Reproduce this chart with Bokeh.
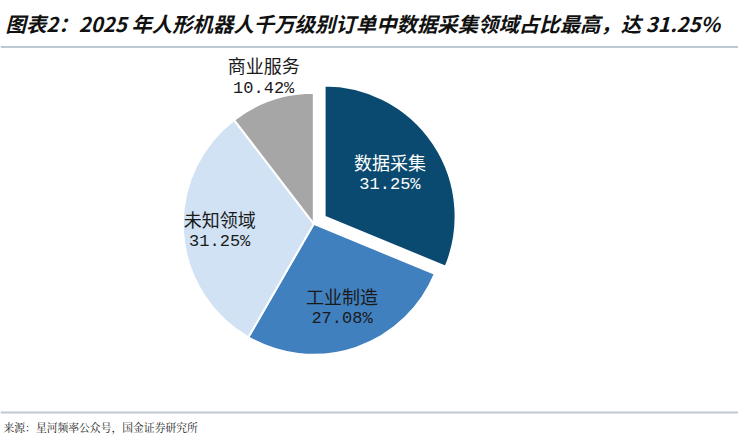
import math
from bokeh.plotting import figure
from bokeh.models import Range1d, ColumnDataSource
from bokeh.core.properties import value
from bokeh.embed import file_html
from bokeh.resources import INLINE

title_text = "图表2：2025 年人形机器人千万级别订单中数据采集领域占比最高，达 31.25%"
source_text = "来源：星河频率公众号，国金证券研究所"
categories = ["数据采集", "工业制造", "未知领域", "商业服务"]
shares = [31.25, 27.08, 31.25, 10.42]
share_labels = ["31.25%", "27.08%", "31.25%", "10.42%"]
colors = ["#0B4A70", "#4180BF", "#D0E2F3", "#A6A6A6"]
label_colors = ["white", "#1a1a1a", "#1a1a1a", "#1a1a1a"]
explode = [13, 0, 0, 0]
label_r = [0.60, 0.67, 0.72, 1.19]

W, H = 738, 441
cx, cy, R = 313.3, H - 223.3, 131

p = figure(width=W, height=H, output_backend="svg", toolbar_location=None,
           x_range=Range1d(0, W), y_range=Range1d(0, H), min_border=0)
p.axis.visible = False
p.grid.visible = False
p.outline_line_color = None
p.background_fill_color = "white"

total = sum(shares)
xs, ys, sa, ea, lx, ly = [], [], [], [], [], []
cum = 0.0
for s, e, lr in zip(shares, explode, label_r):
    a0 = math.pi / 2 - cum / total * 2 * math.pi
    cum += s
    a1 = math.pi / 2 - cum / total * 2 * math.pi
    mid = (a0 + a1) / 2
    ox, oy = cx + e * math.cos(mid), cy + e * math.sin(mid)
    xs.append(ox); ys.append(oy); sa.append(a0); ea.append(a1)
    lx.append(ox + lr * R * math.cos(mid)); ly.append(oy + lr * R * math.sin(mid))

src = ColumnDataSource(dict(x=xs, y=ys, sa=sa, ea=ea, color=colors,
                            lx=lx, ly=ly, cat=categories, pct=share_labels,
                            ly1=[v + 11 for v in ly], ly2=[v - 12 for v in ly],
                            lc=label_colors))
p.wedge(x="x", y="y", radius=R, start_angle="sa", end_angle="ea", direction="clock",
        fill_color="color", line_color="white", line_width=2, source=src)
p.text(x="lx", y="ly1", text="cat", text_color="lc", text_align="center",
       text_baseline="middle", text_font=value("Noto Sans CJK SC"),
       text_font_size="18px", source=src)
p.text(x="lx", y="ly2", text="pct", text_color="lc", text_align="center",
       text_baseline="middle", text_font=value("Liberation Mono"),
       text_font_size="17px", source=src)

p.text(x=[5], y=[H - 22], text=[title_text], text_color="#111111",
       text_font=value("Noto Sans CJK SC"), text_font_style="bold italic",
       text_font_size="20.4px", text_baseline="middle", text_align="left")
p.segment(x0=[0, 0], y0=[H - 46.5, H - 412], x1=[W, W], y1=[H - 46.5, H - 412],
          line_color="#BDCAD6", line_width=2)
p.text(x=[3], y=[H - 427], text=[source_text], text_color="#222222",
       text_font=value("Noto Serif CJK SC"), text_font_size="10.8px",
       text_baseline="middle", text_align="left")

html = file_html(p, INLINE)
html = html.replace("<body>", '<body style="margin:0;overflow:hidden">', 1)
open("out.html", "w").write(html)
